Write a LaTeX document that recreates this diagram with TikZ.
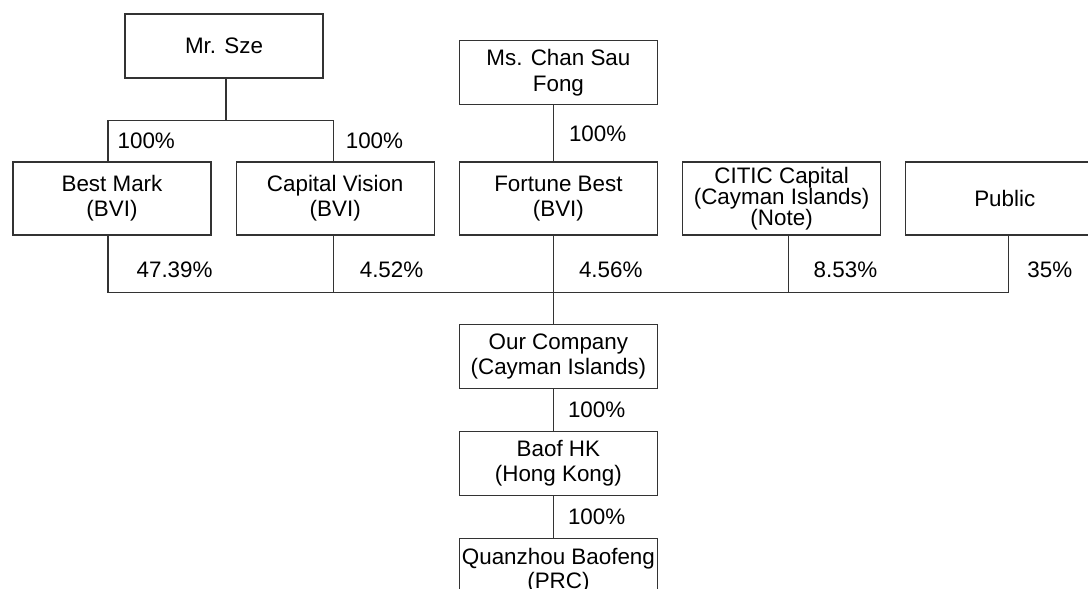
\documentclass[tikz,border=0pt]{standalone}
\usepackage{fontspec}
\setmainfont{Liberation Sans}
\usetikzlibrary{positioning}

\begin{document}
\begin{tikzpicture}[x=0.5pt,y=-0.5pt,line width=0.6pt,draw=black!80,node distance=12pt,
    entity/.style={draw=black!80,minimum width=99pt,minimum height=32pt,inner sep=1pt,
        align=center,font=\fontsize{11.2pt}{12.6pt}\selectfont},
    holder/.style={entity,minimum height=36.5pt},
    pct/.style={anchor=west,inner sep=0pt,xshift=#1,font=\fontsize{11.2pt}{12.6pt}\selectfont},
    pct/.default=12.5pt]

            \useasboundingbox (0,0) rectangle (1088,589);
            \clip (0,0) rectangle (1088,589);

            % shareholders
            \node[holder] (bm) at (112,198.5) {Best Mark\\(BVI)};

            \node[holder] (cv) [right=of bm] {Capital Vision\\(BVI)};

            \node[holder] (fb) [right=of cv] {Fortune Best\\(BVI)};

            \node[holder,font=\fontsize{11.2pt}{10.6pt}\selectfont] (citic) [right=of fb] {CITIC Capital\\(Cayman Islands)\\(Note)};

            \node[holder] (pub) [right=of citic] {Public};

            \node[entity] (sze) at (224,46) {Mr. Sze};

            \node[entity] (chan) [above=28pt of fb] {Ms. Chan Sau\\Fong};

            % group
            \node[entity] (ours) [below=44pt of fb] {Our Company\\(Cayman Islands)};

            \node[entity] (baof) [below=21pt of ours] {Baof HK\\(Hong Kong)};

            \node[entity,font=\fontsize{11.2pt}{12pt}\selectfont] (qz) [below=21pt of baof] {Quanzhou Baofeng\\(PRC)};

            

            \path ([xshift=1pt]sze.south) ++(0,-21pt) coordinate (szefork);

            \path ([xshift=-2.5pt]fb.south) ++(0,-28.5pt) coordinate (busjoin);

            \draw ([xshift=1pt]sze.south) -- (szefork);

            \draw ([xshift=-2pt]bm.north) |- node[pct=4.5pt,pos=.25] {100\%} (szefork);

            \draw ([xshift=-1pt]cv.north) |- node[pct=6pt,pos=.25] {100\%} (szefork);

            \draw (busjoin |- chan.south) -- node[pct=7.5pt] {100\%} (busjoin |- fb.north);

            \draw ([xshift=-2pt]bm.south) |- node[pct=14pt,pos=.3] {47.39\%} (busjoin);

            \draw ([xshift=-1pt]cv.south) |- node[pct=13pt,pos=.3] {4.52\%} (busjoin);

            \draw ([xshift=-2.5pt]fb.south) -- node[pct,pos=.6] {4.56\%} (busjoin);

            \draw ([xshift=3.25pt]citic.south) |- node[pct,pos=.3] {8.53\%} (busjoin);

            \draw ([xshift=2pt]pub.south) |- node[pct=9pt,pos=.3] {35\%} (busjoin);

            \draw (busjoin) -- (busjoin |- ours.north);

            \draw (busjoin |- ours.south) -- node[pct=7pt] {100\%} (busjoin |- baof.north);

            \draw (busjoin |- baof.south) -- node[pct=7pt] {100\%} (busjoin |- qz.north);

        \end{tikzpicture}
\end{document}
